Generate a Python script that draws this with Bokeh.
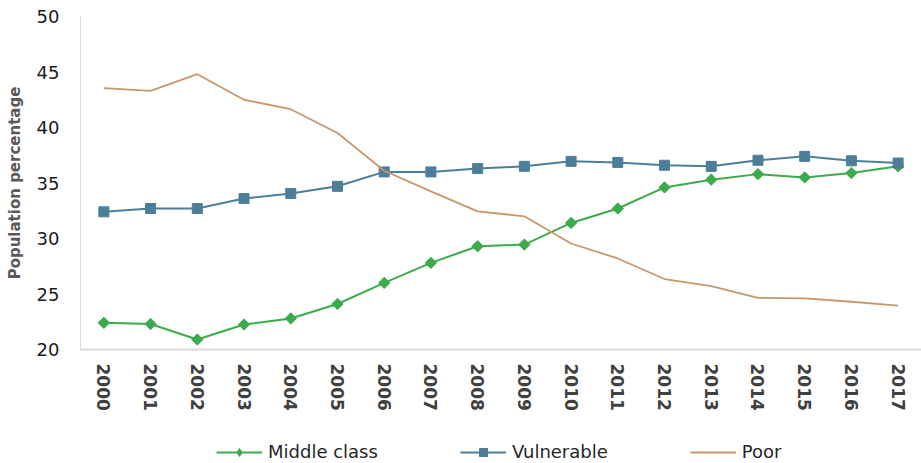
import math
from bokeh.plotting import figure
from bokeh.layouts import column
from bokeh.models import Legend, LegendItem
from bokeh.embed import file_html
from bokeh.resources import INLINE

years = [str(y) for y in range(2000, 2018)]

middle_class = [22.4, 22.3, 20.9, 22.25, 22.8, 24.1, 26.0, 27.8, 29.3, 29.45,
                31.4, 32.7, 34.6, 35.3, 35.8, 35.5, 35.9, 36.5]
vulnerable = [32.4, 32.7, 32.7, 33.6, 34.05, 34.7, 36.0, 36.0, 36.3, 36.5,
              36.95, 36.85, 36.6, 36.5, 37.05, 37.4, 37.0, 36.8]
poor = [43.55, 43.3, 44.8, 42.5, 41.65, 39.5, 36.1, 34.25, 32.45, 32.0,
        29.55, 28.2, 26.35, 25.7, 24.65, 24.6, 24.3, 23.95]

series_names = ["Middle class", "Vulnerable", "Poor"]

GREEN = "#3cab4b"
BLUE = "#4c7e99"
TAN = "#c99669"
FONT = "DejaVu Sans"

p = figure(width=921, height=416, x_range=years, y_range=(20, 50),
           output_backend="svg", toolbar_location=None,
           min_border_left=80, min_border_right=0, min_border_top=16,
           min_border_bottom=67)
p.outline_line_color = None
p.grid.grid_line_color = None

# y axis
p.yaxis.ticker = [20, 25, 30, 35, 40, 45, 50]
p.yaxis.axis_label = "Population percentage"
p.yaxis.axis_label_text_font = FONT
p.yaxis.axis_label_text_font_style = "bold"
p.yaxis.axis_label_text_font_size = "15px"
p.yaxis.axis_label_text_color = "#595959"
p.yaxis.axis_label_standoff = 10
p.yaxis.major_label_text_font = FONT
p.yaxis.major_label_text_font_size = "18px"
p.yaxis.major_label_text_color = "#1a1a1a"
p.yaxis.major_label_standoff = 15
p.yaxis.axis_line_color = "#d9d9d9"
p.yaxis.major_tick_line_color = None
p.yaxis.minor_tick_line_color = None

# x axis
p.xaxis.major_label_orientation = "vertical"
p.xaxis.major_label_text_font = FONT
p.xaxis.major_label_text_font_style = "bold"
p.xaxis.major_label_text_font_size = "17px"
p.xaxis.major_label_text_color = "#404040"
p.xaxis.major_label_standoff = 8
p.xaxis.axis_line_color = "#d9d9d9"
p.xaxis.axis_line_width = 2
p.xaxis.major_tick_line_color = None
p.xaxis.minor_tick_line_color = None

# series (middle-class points are squares turned 45 degrees)
p.line(years, middle_class, line_color=GREEN, line_width=2)
p.scatter(years, middle_class, marker="square", size=8, angle=math.pi / 4,
          fill_color=GREEN, line_color=GREEN)
p.line(years, vulnerable, line_color=BLUE, line_width=2)
p.scatter(years, vulnerable, marker="square", size=10,
          fill_color=BLUE, line_color=BLUE)
p.line(years, poor, line_color=TAN, line_width=1.8)

# legend strip: same styles, drawn off-range so only the legend shows
lg = figure(width=921, height=47, x_range=(0, 1), y_range=(0, 1),
            output_backend="svg", toolbar_location=None,
            min_border=0, outline_line_color=None)
lg.axis.visible = False
lg.grid.grid_line_color = None
off_x, off_y = [-5], [-5]
lg_g = [lg.line(off_x, off_y, line_color=GREEN, line_width=2),
        lg.scatter(off_x, off_y, marker="diamond", size=11,
                   fill_color=GREEN, line_color=GREEN)]
lg_b = [lg.line(off_x, off_y, line_color=BLUE, line_width=2),
        lg.scatter(off_x, off_y, marker="square", size=10,
                   fill_color=BLUE, line_color=BLUE)]
lg_t = [lg.line(off_x, off_y, line_color=TAN, line_width=1.8)]

legend = Legend(items=[
    LegendItem(label=series_names[0], renderers=lg_g),
    LegendItem(label=series_names[1], renderers=lg_b),
    LegendItem(label=series_names[2], renderers=lg_t),
], orientation="horizontal", location=(136, 1))
legend.label_text_font = FONT
legend.label_text_font_size = "18px"
legend.label_text_color = "#262626"
legend.glyph_width = 46
legend.label_standoff = 6
legend.spacing = 82
legend.border_line_color = None
legend.background_fill_alpha = 0
legend.padding = 0
legend.margin = 0
lg.add_layout(legend)

page = column(p, lg, spacing=0)
open("out.html", "w").write(file_html(page, INLINE))
